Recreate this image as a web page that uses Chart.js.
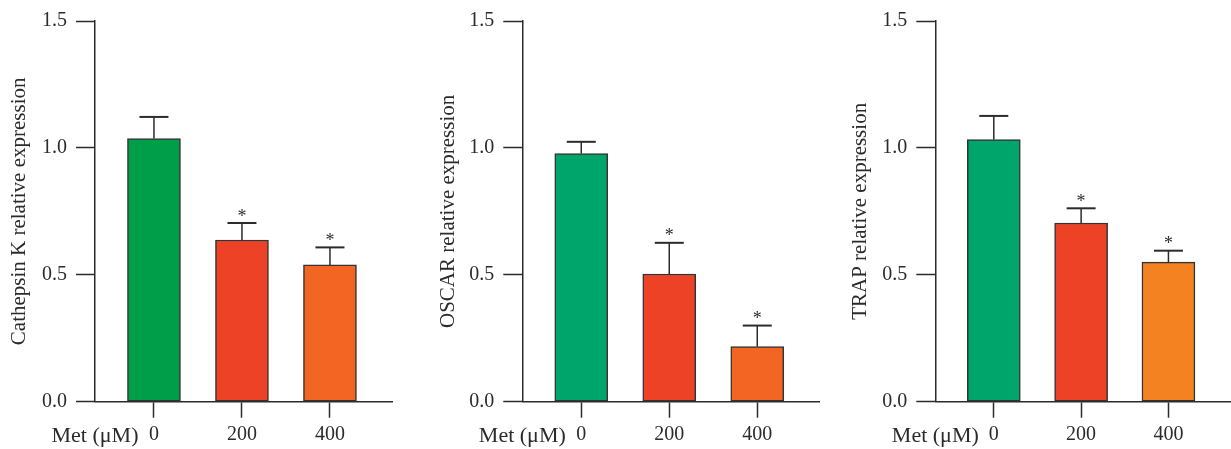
<!DOCTYPE html>
<html>
<head>
<meta charset="utf-8">
<script src="https://cdn.jsdelivr.net/npm/chart.js@4/dist/chart.umd.min.js"></script>
<style>
  body { margin: 0; background: #fff; }
  .wrap { position: relative; width: 1231px; height: 449px; }
  .panel { position: absolute; top: 0; height: 449px; }
</style>
</head>
<body>
<div class="wrap">
  <div class="panel" style="left:0;width:400px"><canvas id="c1"></canvas></div>
  <div class="panel" style="left:420px;width:410px"><canvas id="c2"></canvas></div>
  <div class="panel" style="left:830px;width:401px"><canvas id="c3"></canvas></div>
</div>
<script>
// groups on the x axis
const doses = ["0", "200", "400"];
const xAxisLabel = "Met (μM)";
const yTicks = [0, 0.5, 1.0, 1.5];

// Cathepsin K
const cathepsinMean = [1.037, 0.637, 0.539];
const cathepsinErr = [0.085, 0.067, 0.069];
// OSCAR
const oscarMean = [0.978, 0.503, 0.217];
const oscarErr = [0.046, 0.123, 0.083];
// TRAP
const trapMean = [1.033, 0.704, 0.550];
const trapErr = [0.093, 0.058, 0.045];

// which groups carry a significance star
const starred = [false, true, true];

const FONT = "'Liberation Serif', 'DejaVu Serif', serif";
const INK = "#2b2b2b";

// error bars (upward only) and stars, drawn from the data through the scales
const errorBarPlugin = {
  id: "errorBars",
  afterDatasetsDraw(chart) {
    const { ctx } = chart;
    const x = chart.scales.x;
    const y = chart.scales.y;
    const ds = chart.data.datasets[0];
    ctx.save();
    ds.errors.forEach((e, i) => {
      const px = x.getPixelForValue(i);
      const top = y.getPixelForValue(ds.data[i].y);
      const cap = y.getPixelForValue(ds.data[i].y + e);
      ctx.strokeStyle = INK;
      ctx.lineWidth = 1.5;
      ctx.beginPath();
      ctx.moveTo(px, top);
      ctx.lineTo(px, cap);
      ctx.stroke();
      ctx.lineWidth = 2;
      ctx.beginPath();
      ctx.moveTo(px - 14.5, cap);
      ctx.lineTo(px + 14.5, cap);
      ctx.stroke();
      if (starred[i]) {
        ctx.fillStyle = INK;
        ctx.font = "18px " + FONT;
        ctx.textAlign = "center";
        ctx.textBaseline = "alphabetic";
        ctx.fillText("*", px, cap - 10 + 8.5);
      }
    });
    ctx.restore();
  }
};

function makePanel(id, title, means, errs, colors, yWidth, padRight, titlePad) {
  const points = means.map((v, i) => ({ x: i, y: v }));
  return new Chart(document.getElementById(id), {
    type: "bar",
    data: {
      datasets: [{
        data: points,
        errors: errs,
        backgroundColor: colors,
        borderColor: "#333",
        borderWidth: 1.5,
        borderSkipped: false,
        barThickness: 53
      }]
    },
    options: {
      responsive: true,
      maintainAspectRatio: false,
      animation: false,
      layout: { padding: { top: 18, right: padRight, bottom: 0, left: 0 } },
      plugins: { legend: { display: false }, tooltip: { enabled: false } },
      scales: {
        x: {
          type: "linear",
          offset: false,
          min: -0.67,
          max: 2.705,
          afterBuildTicks: (s) => {
            s.ticks = [{ value: -0.67 }].concat(doses.map((d, i) => ({ value: i })));
          },
          afterFit: (s) => { s.height = 47.3; },
          ticks: {
            callback: (v, i) => (i === 0 ? xAxisLabel : doses[i - 1]),
            font: (c) => ({ family: FONT, size: c.index === 0 ? 22 : 20 }),
            color: INK,
            padding: 5,
            maxRotation: 0,
            autoSkip: false
          },
          grid: {
            offset: false,
            drawOnChartArea: false,
            tickLength: 16,
            tickWidth: 1.5,
            tickColor: (c) => (c.index === 0 ? "rgba(0,0,0,0)" : INK)
          },
          border: { color: INK, width: 1.5 }
        },
        y: {
          min: 0,
          max: 1.5,
          afterBuildTicks: (s) => { s.ticks = yTicks.map((v) => ({ value: v })); },
          afterFit: (s) => { s.width = yWidth; },
          ticks: {
            callback: (v) => v.toFixed(1),
            font: { family: FONT, size: 20 },
            color: INK,
            padding: 9
          },
          grid: {
            drawOnChartArea: false,
            tickLength: 19,
            tickWidth: 1.5,
            tickColor: INK
          },
          border: { color: INK, width: 1.5 },
          title: {
            display: true,
            text: title,
            font: { family: FONT, size: 21 },
            color: INK,
            padding: { top: titlePad, bottom: 6 }
          }
        }
      }
    },
    plugins: [errorBarPlugin]
  });
}

makePanel("c1", "Cathepsin K relative expression", cathepsinMean, cathepsinErr,
  ["#009e49", "#ee4226", "#f26522"], 95, 8, 7);
makePanel("c2", "OSCAR relative expression", oscarMean, oscarErr,
  ["#00a56c", "#ee4226", "#f26522"], 102.3, 10.7, 16);
makePanel("c3", "TRAP relative expression", trapMean, trapErr,
  ["#00a56c", "#ee4226", "#f58220"], 105.3, 1, 18);
</script>
</body>
</html>
